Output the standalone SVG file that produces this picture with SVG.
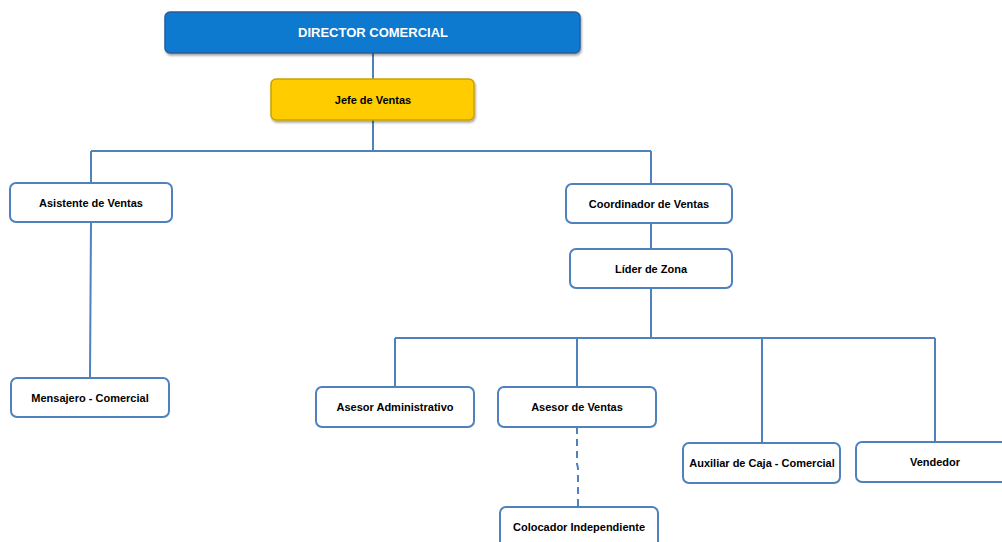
<svg xmlns="http://www.w3.org/2000/svg" width="1002" height="542" viewBox="0 0 1002 542">
<defs>
<filter id="sh" x="-5%" y="-20%" width="110%" height="150%">
<feDropShadow dx="1" dy="2" stdDeviation="1.2" flood-color="#000" flood-opacity="0.35"/>
</filter>
</defs>
<style>
.box{fill:#fff;stroke:#4f81bd;stroke-width:2}
.t{font-family:"Liberation Sans",Arial,sans-serif;font-weight:bold;font-size:11px;fill:#000;text-anchor:middle}
.c{fill:none;stroke:#4f81bd;stroke-width:2}
</style>
<rect width="1002" height="542" fill="#fff"/>
<g id="connectors">
<path class="c" d="M373 53V79"/>
<path class="c" d="M373 120V151M91 151H651"/>
<path class="c" d="M91 151V183"/>
<path class="c" d="M91 222L90 378"/>
<path class="c" d="M651 151V184"/>
<path class="c" d="M651 223V249"/>
<path class="c" d="M651 288V338M395 338H935"/>
<path class="c" d="M395 338V387"/>
<path class="c" d="M577 338V387"/>
<path class="c" d="M762 338V443"/>
<path class="c" d="M935 338V442"/>
<path class="c" d="M577 427V464L578 468V507" stroke-dasharray="7,5"/>
</g>
<g id="director">
<rect x="165" y="12" width="415" height="41" rx="5" fill="#0779cf" stroke="#2a5e9a" stroke-width="1.5" filter="url(#sh)"/>
<text x="373" y="37" class="t" style="font-size:13px;fill:#fff">DIRECTOR COMERCIAL</text>
</g>
<g id="jefe">
<rect x="271" y="79" width="203" height="41" rx="5" fill="#ffcc00" stroke="#c9a200" stroke-width="1.5" filter="url(#sh)"/>
<text x="373" y="104" class="t">Jefe de Ventas</text>
</g>
<g id="asistente">
<rect class="box" x="10" y="183" width="162" height="39" rx="6"/>
<text x="91" y="207" class="t">Asistente  de Ventas</text>
</g>
<g id="mensajero">
<rect class="box" x="11" y="378" width="158" height="39" rx="6"/>
<text x="90" y="402" class="t">Mensajero  - Comercial</text>
</g>
<g id="coordinador">
<rect class="box" x="566" y="184" width="166" height="39" rx="6"/>
<text x="649" y="208" class="t">Coordinador  de Ventas</text>
</g>
<g id="lider">
<rect class="box" x="570" y="249" width="162" height="39" rx="6"/>
<text x="651" y="273" class="t">Líder de Zona</text>
</g>
<g id="asesor-admin">
<rect class="box" x="316" y="387" width="158" height="40" rx="6"/>
<text x="395" y="411" class="t">Asesor  Administrativo</text>
</g>
<g id="asesor-ventas">
<rect class="box" x="498" y="387" width="158" height="40" rx="6"/>
<text x="577" y="411" class="t">Asesor  de Ventas</text>
</g>
<g id="auxiliar">
<rect class="box" x="683" y="443" width="157" height="40" rx="6"/>
<text x="762" y="467" class="t">Auxiliar  de Caja - Comercial</text>
</g>
<g id="vendedor">
<rect class="box" x="856" y="442" width="160" height="40" rx="6"/>
<text x="935" y="466" class="t">Vendedor</text>
</g>
<g id="colocador">
<rect class="box" x="500" y="507" width="158" height="44" rx="6"/>
<text x="579" y="531" class="t">Colocador  Independiente</text>
</g>
</svg>
